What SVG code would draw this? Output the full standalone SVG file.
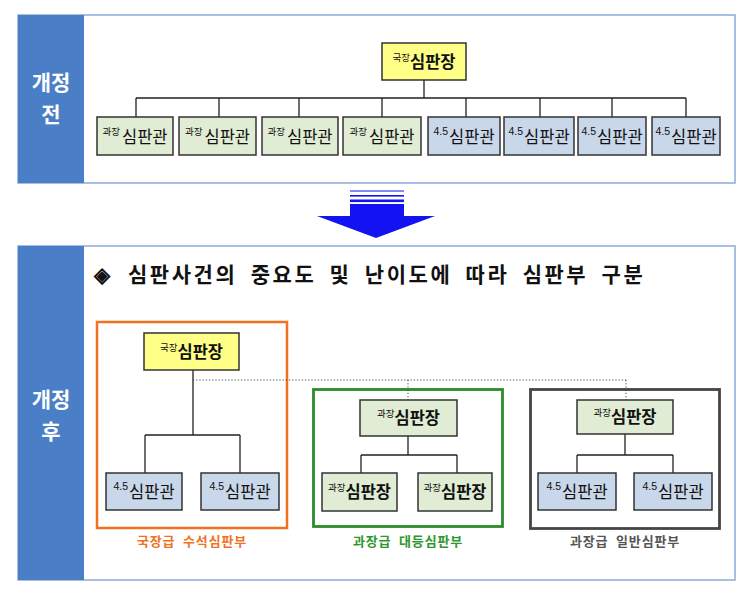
<svg xmlns="http://www.w3.org/2000/svg" width="748" height="601" viewBox="0 0 748 601">
<style>
.panel{fill:#fff;stroke:#8AAAD8;stroke-width:1.5}
.band{fill:#4A7FC7}
.n{stroke:#333;stroke-width:1.5}
.y{fill:#FFFF88}
.g{fill:#E0ECD3}
.b{fill:#C9D7EA}
.ln{stroke:#222;stroke-width:1.3;fill:none}
.dot{stroke:#444;stroke-width:1;stroke-dasharray:1.2 2;fill:none}
.side{font-family:"Noto Sans CJK KR","Liberation Sans",sans-serif;font-weight:bold;font-size:21px;fill:#fff;text-anchor:middle}
.t{font-family:"Noto Sans CJK KR","Liberation Sans",sans-serif;text-anchor:middle;fill:#111}
.m{font-size:16.5px}
.mb{font-size:16.5px;font-weight:bold}
.s{font-size:9.5px}
.sl{font-family:"Liberation Sans",sans-serif;font-size:10.5px}
.title{font-family:"Noto Sans CJK KR","Liberation Sans",sans-serif;font-weight:bold;font-size:21px;fill:#111}
.cap{font-family:"Noto Sans CJK KR","Liberation Sans",sans-serif;font-weight:bold;font-size:13px;text-anchor:middle;letter-spacing:0.8px;word-spacing:4px}
</style>
<rect width="748" height="601" fill="#fff"/>

<g id="panel-before">
<rect class="panel" x="18" y="15" width="717" height="168"/>
<rect class="band" x="18" y="15" width="66" height="168"/>
<text class="side" x="51" y="90">개정</text>
<text class="side" x="51" y="122">전</text>
</g>

<g id="arrow" fill="#1212F2">
<rect x="350" y="190.5" width="54" height="1"/>
<rect x="350" y="195" width="54" height="1.6"/>
<rect x="350" y="199.5" width="54" height="2.6"/>
<rect x="350" y="204" width="54" height="13"/>
<polygon points="317,216 435,216 376,238"/>
</g>

<g id="panel-after">
<rect class="panel" x="18" y="246" width="717" height="334"/>
<rect class="band" x="18" y="246" width="66" height="334"/>
<text class="side" x="51" y="407">개정</text>
<text class="side" x="51" y="439">후</text>
<text class="title" x="94" y="282">◈</text>
<text class="title" x="128" y="282" letter-spacing="2.55" word-spacing="6">심판사건의 중요도 및 난이도에 따라 심판부 구분</text>
</g>

<g id="group-boxes" fill="none">
<rect x="97" y="322" width="190" height="206" stroke="#F0721E" stroke-width="2.5"/>
<rect x="313.5" y="389.5" width="189" height="137" stroke="#2C8C2C" stroke-width="2.8"/>
<rect x="530.5" y="389.5" width="189" height="139" stroke="#454545" stroke-width="2.8"/>
<text class="cap" x="192" y="546" fill="#F0721E">국장급 수석심판부</text>
<text class="cap" x="408" y="546" fill="#2E962E">과장급 대등심판부</text>
<text class="cap" x="625" y="546" fill="#555">과장급 일반심판부</text>
</g>

<g id="connectors">
<path class="ln" d="M424,80V98M136,98H686M136,98V117M219,98V117M299,98V117M382,98V117M466,98V117M540,98V117M612,98V117M686,98V117"/>
<path class="ln" d="M193,370V435M145,435H240M145,435V473M240,435V473"/>
<path class="ln" d="M408,436V455M361,455H457M361,455V473M457,455V473"/>
<path class="ln" d="M625,434V455M577,455H673M577,455V473M673,455V473"/>
<path class="dot" d="M193,380H626M408,380V400M626,380V400"/>
</g>

<g id="top-head"><rect class="n y" x="382" y="43" width="84" height="37"/><text class="t" x="424" y="68"><tspan class="s" dy="-7">국장</tspan><tspan class="mb" dy="7">심판장</tspan></text></g>
<g id="top-1"><rect class="n g" x="97" y="117" width="76" height="38"/><text class="t" x="135" y="143"><tspan class="s" dy="-8">과장</tspan><tspan class="m" dx="2" dy="8">심판관</tspan></text></g>
<g id="top-2"><rect class="n g" x="179" y="117" width="77" height="38"/><text class="t" x="217.5" y="143"><tspan class="s" dy="-8">과장</tspan><tspan class="m" dx="2" dy="8">심판관</tspan></text></g>
<g id="top-3"><rect class="n g" x="262" y="117" width="76" height="38"/><text class="t" x="300" y="143"><tspan class="s" dy="-8">과장</tspan><tspan class="m" dx="2" dy="8">심판관</tspan></text></g>
<g id="top-4"><rect class="n g" x="343" y="117" width="78" height="38"/><text class="t" x="382" y="143"><tspan class="s" dy="-8">과장</tspan><tspan class="m" dx="2" dy="8">심판관</tspan></text></g>
<g id="top-5"><rect class="n b" x="428" y="117" width="72" height="38"/><text class="t" x="464" y="143"><tspan class="sl" dy="-8">4.5</tspan><tspan class="m" dx="1" dy="8">심판관</tspan></text></g>
<g id="top-6"><rect class="n b" x="504" y="117" width="70" height="38"/><text class="t" x="539" y="143"><tspan class="sl" dy="-8">4.5</tspan><tspan class="m" dx="1" dy="8">심판관</tspan></text></g>
<g id="top-7"><rect class="n b" x="578" y="117" width="68" height="38"/><text class="t" x="612" y="143"><tspan class="sl" dy="-8">4.5</tspan><tspan class="m" dx="1" dy="8">심판관</tspan></text></g>
<g id="top-8"><rect class="n b" x="652" y="117" width="68" height="38"/><text class="t" x="686" y="143"><tspan class="sl" dy="-8">4.5</tspan><tspan class="m" dx="1" dy="8">심판관</tspan></text></g>

<g id="a-head"><rect class="n y" x="144" y="333" width="95" height="37"/><text class="t" x="191.5" y="358"><tspan class="s" dy="-7">국장</tspan><tspan class="mb" dy="7">심판장</tspan></text></g>
<g id="a-1"><rect class="n b" x="106" y="473" width="76" height="37"/><text class="t" x="144" y="498"><tspan class="sl" dy="-8">4.5</tspan><tspan class="m" dx="1" dy="8">심판관</tspan></text></g>
<g id="a-2"><rect class="n b" x="201" y="473" width="78" height="37"/><text class="t" x="240" y="498"><tspan class="sl" dy="-8">4.5</tspan><tspan class="m" dx="1" dy="8">심판관</tspan></text></g>

<g id="b-head"><rect class="n g" x="360" y="400" width="97" height="36"/><text class="t" x="408.5" y="424"><tspan class="s" dy="-7">과장</tspan><tspan class="mb" dy="7">심판장</tspan></text></g>
<g id="b-1"><rect class="n g" x="322" y="473" width="75" height="38"/><text class="t" x="359.5" y="498"><tspan class="s" dy="-7">과장</tspan><tspan class="mb" dy="7">심판장</tspan></text></g>
<g id="b-2"><rect class="n g" x="418" y="473" width="74" height="38"/><text class="t" x="455" y="498"><tspan class="s" dy="-7">과장</tspan><tspan class="mb" dy="7">심판장</tspan></text></g>

<g id="c-head"><rect class="n g" x="577" y="400" width="96" height="34"/><text class="t" x="625" y="423"><tspan class="s" dy="-7">과장</tspan><tspan class="mb" dy="7">심판장</tspan></text></g>
<g id="c-1"><rect class="n b" x="538" y="473" width="78" height="37"/><text class="t" x="577" y="498"><tspan class="sl" dy="-8">4.5</tspan><tspan class="m" dx="1" dy="8">심판관</tspan></text></g>
<g id="c-2"><rect class="n b" x="634" y="473" width="78" height="37"/><text class="t" x="673" y="498"><tspan class="sl" dy="-8">4.5</tspan><tspan class="m" dx="1" dy="8">심판관</tspan></text></g>
</svg>
